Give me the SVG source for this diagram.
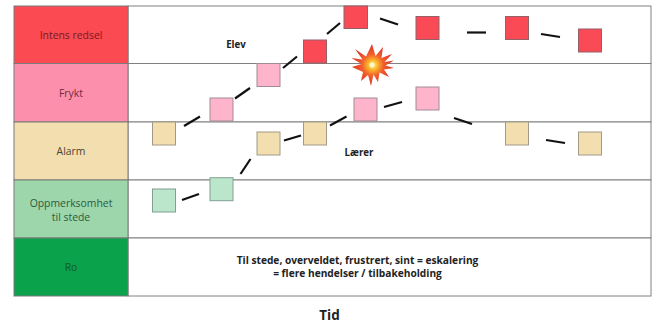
<svg xmlns="http://www.w3.org/2000/svg" width="657" height="324" viewBox="0 0 657 324">
<style>
text{font-family:"Open Sans","Noto Sans",sans-serif;text-anchor:middle}
.lab{font-size:10.4px}
.b{font-size:9.7px;font-weight:700;fill:#222}
.n{font-size:10.2px;font-weight:700;fill:#222}
.cell{stroke:#7a7a7a;stroke-width:1}
.row{fill:#fff;stroke:#808080;stroke-width:1}
.s{stroke-width:1}
.r{fill:#f94a55;stroke:#94606a}
.p{fill:#feb4cb;stroke:#a08c96}
.a{fill:#f3deaf;stroke:#a09a88}
.g{fill:#bbe6cc;stroke:#80a090}
#connectors line{stroke:#111;stroke-width:2.2}
</style>
<defs>
<radialGradient id="boom"><stop offset="0" stop-color="#fff3b0"/><stop offset="0.22" stop-color="#fbb92c"/><stop offset="0.5" stop-color="#f2612c"/><stop offset="1" stop-color="#dc2f2c"/></radialGradient>
</defs>
<g id="grid">
<rect class="row" x="128" y="6" width="523" height="57.5"/>
<rect class="row" x="128" y="63.5" width="523" height="58.5"/>
<rect class="row" x="128" y="122" width="523" height="58"/>
<rect class="row" x="128" y="180" width="523" height="58"/>
<rect class="row" x="128" y="238" width="523" height="58"/>
</g>
<g id="level-intens">
<rect class="cell" x="14" y="6" width="114" height="57.5" fill="#fb4a52"/>
<text class="lab" x="71" y="38.500" fill="#7a1822">Intens redsel</text>
</g>
<g id="level-frykt">
<rect class="cell" x="14" y="63.500" width="114" height="58.500" fill="#fc90ac"/>
<text class="lab" x="71" y="96.500" fill="#6e2a3c">Frykt</text>
</g>
<g id="level-alarm">
<rect class="cell" x="14" y="122" width="114" height="58" fill="#f3deaf"/>
<text class="lab" x="71" y="155" fill="#4a4436">Alarm</text>
</g>
<g id="level-oppmerksomhet">
<rect class="cell" x="14" y="180" width="114" height="58" fill="#9dd6ab"/>
<text class="lab" x="71" y="207" fill="#2c5a3e">Oppmerksomhet</text>
<text class="lab" x="71" y="221" fill="#2c5a3e">til stede</text>
</g>
<g id="level-ro">
<rect class="cell" x="14" y="238" width="114" height="58" fill="#0ba24c"/>
<text class="lab" x="71" y="271" fill="#0b5a2c">Ro</text>
</g>
<g id="connectors">
<line x1="184" y1="126" x2="200" y2="116.500"/>
<line x1="235" y1="98.500" x2="250" y2="88"/>
<line x1="283" y1="68" x2="297" y2="56.500"/>
<line x1="327" y1="34" x2="340" y2="23"/>
<line x1="380" y1="18.500" x2="398" y2="24.500"/>
<line x1="467" y1="32.500" x2="486" y2="32.500"/>
<line x1="541" y1="34" x2="560" y2="37"/>
<line x1="182" y1="200" x2="199" y2="194"/>
<line x1="240.500" y1="174" x2="250.500" y2="159"/>
<line x1="284" y1="140.500" x2="301" y2="135.500"/>
<line x1="330" y1="125.500" x2="346.500" y2="116.500"/>
<line x1="384" y1="107" x2="402" y2="102"/>
<line x1="454" y1="118" x2="472" y2="124"/>
<line x1="546" y1="140" x2="565" y2="143"/>
</g>
<g id="student-1"><rect class="s a" x="152.500" y="122" width="23" height="23"/></g>
<g id="student-2"><rect class="s p" x="210" y="98" width="23" height="23"/></g>
<g id="student-3"><rect class="s p" x="257" y="63.500" width="23" height="23"/></g>
<g id="student-4"><rect class="s r" x="303.500" y="40" width="23" height="23"/></g>
<g id="student-5"><rect class="s r" x="344" y="6" width="23.500" height="22.500"/></g>
<g id="student-6"><rect class="s r" x="416" y="16.500" width="23" height="23"/></g>
<g id="student-7"><rect class="s r" x="505.500" y="16.500" width="23" height="23"/></g>
<g id="student-8"><rect class="s r" x="578.500" y="29" width="23" height="23"/></g>
<g id="teacher-1"><rect class="s g" x="152.500" y="189" width="23" height="23"/></g>
<g id="teacher-2"><rect class="s g" x="210" y="177.700" width="23" height="23"/></g>
<g id="teacher-3"><rect class="s a" x="257" y="132" width="23" height="23"/></g>
<g id="teacher-4"><rect class="s a" x="303.500" y="122" width="23" height="23"/></g>
<g id="teacher-5"><rect class="s p" x="354" y="98" width="23" height="23"/></g>
<g id="teacher-6"><rect class="s p" x="416" y="87" width="23" height="23"/></g>
<g id="teacher-7"><rect class="s a" x="505.500" y="122" width="23" height="23"/></g>
<g id="teacher-8"><rect class="s a" x="578.500" y="132" width="23" height="23"/></g>
<g id="explosion">
<polygon fill="url(#boom)" points="372,44 375.500,56 383,47 381.500,58 392,54 384.500,62 394,60.500 385.500,65.500 394,68 384,69.500 389,77 379.500,72.500 378,82 373.500,74.500 371,86 368,75 361,81 363,72 352,67 361.500,64 351.500,58 362.500,59.500 355,49 366,56.500"/>
<circle cx="372" cy="65" r="2.500" fill="#fff6c8"/>
</g>
<g id="labels">
<text class="b" x="236" y="48">Elev</text>
<text class="b" x="359" y="156">Lærer</text>
<text class="n" x="357.500" y="264">Til stede, overveldet, frustrert, sint = eskalering</text>
<text class="n" x="357.500" y="277">= flere hendelser / tilbakeholding</text>
<text x="329.500" y="320" font-size="13.500" font-weight="700" fill="#222">Tid</text>
</g>
</svg>
